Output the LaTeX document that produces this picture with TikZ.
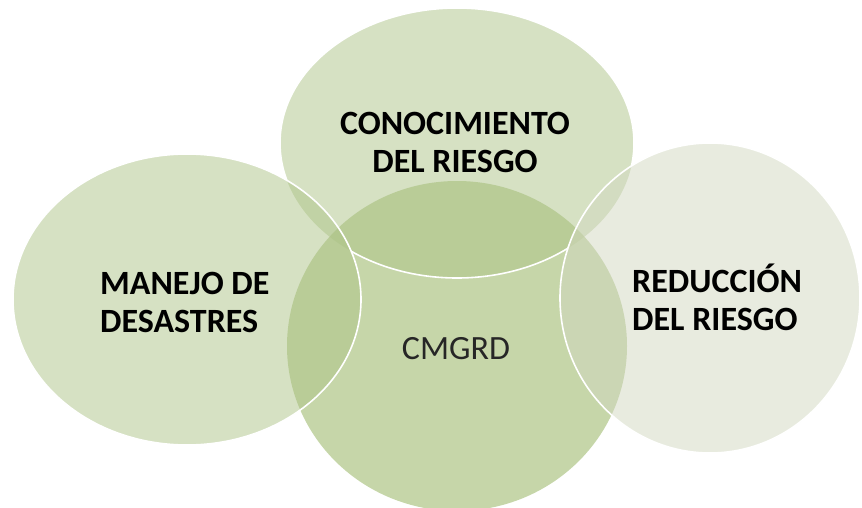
\documentclass[tikz,border=0pt]{standalone}
\usepackage{fontspec}
\setmainfont{Carlito}
\usetikzlibrary{shapes.geometric}
\definecolor{cmid}{HTML}{C6D6A9}
\definecolor{ctop}{HTML}{ADC387}
\definecolor{cright}{HTML}{D1D7BF}
\tikzset{
  blob/.style={ellipse, inner sep=0pt, outer sep=0pt, draw=none},
  halfblob/.style={blob, fill opacity=0.5},
  rim/.style={draw=white, line width=1.6pt},
  boldlabel/.style={font=\fontsize{34}{38}\selectfont\bfseries, text=black, inner sep=0pt},
  plainlabel/.style={font=\fontsize{34}{38}\selectfont, text=black!85, inner sep=0pt}
}
\begin{document}
\begin{tikzpicture}[x=1pt,y=-1pt]
\useasboundingbox (0,0) rectangle (862,508);
% centre ellipse
\node[blob, fill=cmid, minimum width=340pt, minimum height=330pt] (mid) at (457,346) {};
% top ellipse
\node[halfblob, fill=ctop, minimum width=354pt, minimum height=270pt] (top) at (457,143) {};
% left ellipse
\node[halfblob, fill=ctop, minimum width=348pt, minimum height=291pt] (left) at (187,299.5) {};
% right ellipse
\node[halfblob, fill=cright, minimum width=300pt, minimum height=310pt] (right) at (710,298) {};
% outline of the top ellipse, hidden under the left and right ones
\begin{scope}[even odd rule]
  \clip (-10,-10) -- (-10,520) -- (870,520) -- (870,-10) -- cycle
    (left.center) ellipse [x radius=174, y radius=145.5]
    (right.center) ellipse [x radius=150, y radius=155];
  \draw[rim] (top.center) ellipse [x radius=177, y radius=135];
\end{scope}
\draw[rim] (left.center) ellipse [x radius=174, y radius=145.5];
\draw[rim] (right.center) ellipse [x radius=150, y radius=155];
% labels
\node[boldlabel, align=center] (ttop) at (455,142) {CONOCIMIENTO\\DEL RIESGO};
\node[boldlabel, align=left, anchor=west] (tleft) at (100,302) {MANEJO DE\\DESASTRES};
\node[boldlabel, align=left, anchor=west] (tright) at (632,297) {REDUCCIÓN\\DEL RIESGO};
\node[plainlabel] (tmid) at (456,349) {CMGRD};
\end{tikzpicture}
\end{document}
